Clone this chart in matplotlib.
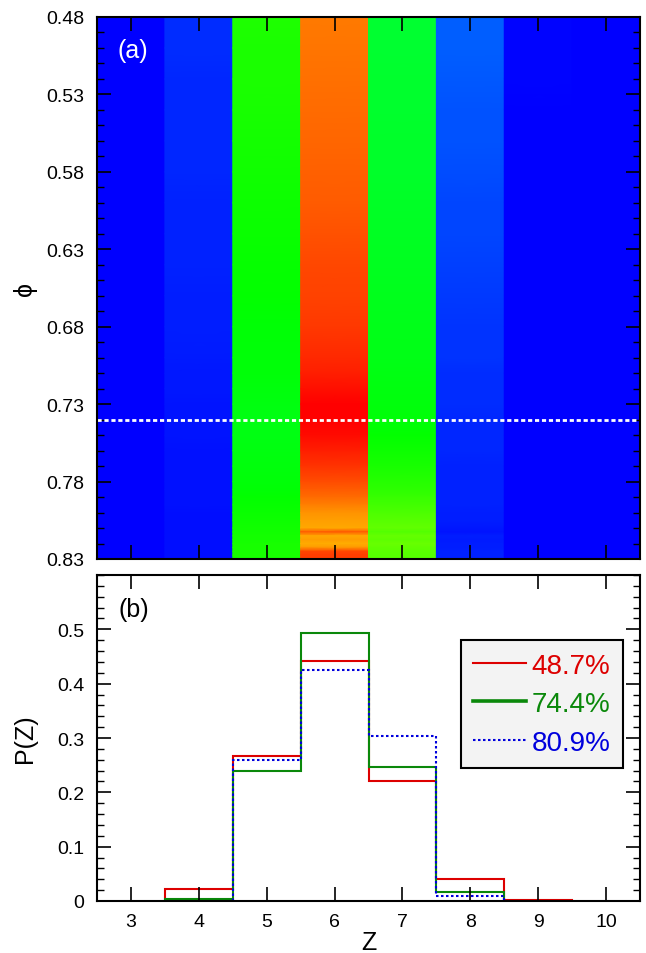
import numpy as np
import matplotlib
matplotlib.use("Agg")
import matplotlib.pyplot as plt
from matplotlib.colors import LinearSegmentedColormap
from matplotlib.lines import Line2D
from matplotlib.ticker import MultipleLocator

plt.rcParams["font.family"] = ["Liberation Sans", "DejaVu Sans"]

# ---- data ----
z_vals = [3, 4, 5, 6, 7, 8, 9, 10]

# panel (a): P(Z) map, rows in phi
phi_rows = [0.48, 0.50, 0.52, 0.54, 0.56, 0.58, 0.60, 0.62, 0.64, 0.66,
            0.68, 0.70, 0.71, 0.72, 0.73, 0.74, 0.75, 0.76, 0.77, 0.78,
            0.785, 0.79, 0.795, 0.80, 0.805, 0.81, 0.8125, 0.815, 0.8175, 0.82,
            0.8225, 0.825, 0.8275, 0.83]
pz3 = [0.0, 0.0, 0.0, 0.0, 0.0, 0.0, 0.0, 0.0, 0.0, 0.0,
       0.0, 0.0, 0.0, 0.0, 0.0, 0.0, 0.0, 0.0, 0.0, 0.0,
       0.0, 0.0, 0.0, 0.0, 0.0, 0.0, 0.0, 0.0, 0.0, 0.0,
       0.0, 0.0, 0.0, 0.0]
pz4 = [0.024, 0.024, 0.023, 0.023, 0.022, 0.022, 0.021, 0.021, 0.020, 0.019,
       0.018, 0.016, 0.015, 0.014, 0.013, 0.012, 0.012, 0.011, 0.011, 0.010,
       0.010, 0.010, 0.010, 0.009, 0.009, 0.008, 0.008, 0.008, 0.008, 0.008,
       0.008, 0.008, 0.008, 0.008]
pz5 = [0.266, 0.265, 0.264, 0.262, 0.260, 0.258, 0.256, 0.254, 0.252, 0.250,
       0.248, 0.246, 0.245, 0.243, 0.241, 0.240, 0.240, 0.241, 0.243, 0.246,
       0.248, 0.250, 0.252, 0.255, 0.257, 0.259, 0.259, 0.260, 0.260, 0.262,
       0.262, 0.262, 0.262, 0.262]
pz6 = [0.442, 0.444, 0.446, 0.448, 0.450, 0.452, 0.455, 0.458, 0.461, 0.464,
       0.468, 0.474, 0.478, 0.484, 0.489, 0.492, 0.486, 0.478, 0.470, 0.460,
       0.455, 0.448, 0.440, 0.432, 0.428, 0.425, 0.455, 0.424, 0.428, 0.422,
       0.430, 0.462, 0.465, 0.465]
pz7 = [0.221, 0.222, 0.223, 0.224, 0.225, 0.226, 0.228, 0.229, 0.231, 0.233,
       0.235, 0.238, 0.240, 0.242, 0.244, 0.246, 0.250, 0.256, 0.262, 0.270,
       0.275, 0.280, 0.286, 0.292, 0.298, 0.304, 0.296, 0.306, 0.302, 0.308,
       0.304, 0.300, 0.298, 0.298]
pz8 = [0.041, 0.040, 0.038, 0.037, 0.036, 0.035, 0.033, 0.032, 0.030, 0.028,
       0.027, 0.026, 0.025, 0.024, 0.024, 0.023, 0.022, 0.022, 0.021, 0.021,
       0.021, 0.020, 0.020, 0.019, 0.018, 0.015, 0.013, 0.018, 0.016, 0.019,
       0.018, 0.020, 0.020, 0.020]
pz9 = [0.002, 0.002, 0.002, 0.001, 0.001, 0.001, 0.001, 0.0, 0.0, 0.0,
       0.0, 0.0, 0.0, 0.0, 0.0, 0.0, 0.0, 0.0, 0.0, 0.0,
       0.0, 0.0, 0.0, 0.0, 0.0, 0.0, 0.0, 0.0, 0.0, 0.0,
       0.0, 0.0, 0.0, 0.0]
pz10 = [0.0, 0.0, 0.0, 0.0, 0.0, 0.0, 0.0, 0.0, 0.0, 0.0,
        0.0, 0.0, 0.0, 0.0, 0.0, 0.0, 0.0, 0.0, 0.0, 0.0,
        0.0, 0.0, 0.0, 0.0, 0.0, 0.0, 0.0, 0.0, 0.0, 0.0,
        0.0, 0.0, 0.0, 0.0]
phi_cut = 0.74

# panel (b): P(Z) at three filling fractions
p_487 = [0.0, 0.023, 0.266, 0.442, 0.221, 0.040, 0.002, 0.0]
p_744 = [0.0, 0.003, 0.239, 0.493, 0.246, 0.017, 0.0, 0.0]
p_809 = [0.0, 0.0, 0.259, 0.425, 0.304, 0.009, 0.0, 0.0]
labels_b = ["48.7%", "74.4%", "80.9%"]

# rainbow-ish map: blue -> cyan -> green -> yellow -> red
vmax = 0.5
cmap = LinearSegmentedColormap.from_list("pz", [
    (0.0, (0, 0, 1)),
    (0.02 / vmax, (0, 0.13, 1)),
    (0.04 / vmax, (0, 0.38, 1)),
    (0.10 / vmax, (0, 1, 1)),
    (0.25 / vmax, (0, 1, 0)),
    (0.392 / vmax, (1, 1, 0)),
    (0.49 / vmax, (1, 0, 0)),
    (1.0, (1, 0, 0)),
])

fig = plt.figure(figsize=(6.46, 9.54), dpi=100)
ax1 = fig.add_axes([97 / 646, 1 - 560 / 954, 543 / 646, 542 / 954])
ax2 = fig.add_axes([97 / 646, 1 - 902 / 954, 543 / 646, 326 / 954])

tick_kw = dict(direction="in", top=True, right=True, labelsize=14)

# ---- (a) ----
# one strip per Z so the shading only blends along phi
for zi, col in zip(z_vals, [pz3, pz4, pz5, pz6, pz7, pz8, pz9, pz10]):
    strip = np.column_stack([col, col])
    ax1.pcolormesh([zi - 0.5, zi + 0.5], phi_rows, strip, shading="gouraud",
                   cmap=cmap, vmin=0, vmax=vmax)
ax1.axhline(phi_cut, color="white", lw=2, ls=(0, (1.5, 1.0)))
ax1.set_xlim(2.5, 10.5)
ax1.set_ylim(0.83, 0.48)
ax1.set_xticks(z_vals)
ax1.set_xticklabels([])
ax1.set_yticks(np.arange(0.48, 0.831, 0.05))
ax1.set_yticklabels(["0.48", "0.53", "0.58", "0.63", "0.68", "0.73", "0.78", "0.83"])
ax1.yaxis.set_minor_locator(MultipleLocator(0.01))
ax1.tick_params(which="major", length=10, width=1.2, pad=9, **tick_kw)
ax1.tick_params(which="minor", length=5, width=1.0, direction="in", right=True)
ax1.set_ylabel("ϕ", fontsize=18, va="center")
ax1.yaxis.set_label_coords(-0.133, 0.5)
ax1.text(0.037, 0.94, "(a)", color="white", fontsize=18,
         transform=ax1.transAxes, va="center", ha="left")

# ---- (b) ----
z = np.array(z_vals)


def draw_steps(ax, p, **kw):
    p = np.asarray(p)
    nz = np.nonzero(p)[0]
    lo, hi = nz[0], nz[-1] + 1
    edges = np.append(z[lo:hi] - 0.5, z[hi - 1] + 0.5)
    ax.stairs(p[lo:hi], edges, baseline=0, **kw)


draw_steps(ax2, p_487, color="#dd0000", lw=1.5)
draw_steps(ax2, p_744, color="#0a880a", lw=1.5)
draw_steps(ax2, p_809, color="#0000dd", lw=1.5, ls=(0, (1.2, 1.2)))

ax2.set_xlim(2.5, 10.5)
ax2.set_ylim(0, 0.6)
ax2.set_xticks(z_vals)
ax2.set_yticks([0, 0.1, 0.2, 0.3, 0.4, 0.5])
ax2.set_yticklabels(["0", "0.1", "0.2", "0.3", "0.4", "0.5"])
ax2.yaxis.set_minor_locator(MultipleLocator(0.02))
ax2.tick_params(which="major", length=10, width=1.2, pad=9, **tick_kw)
ax2.tick_params(which="minor", length=5, width=1.0, direction="in", right=True)
ax2.set_ylabel("P(Z)", fontsize=18, va="center")
ax2.yaxis.set_label_coords(-0.133, 0.5)
ax2.set_xlabel("Z", fontsize=18, va="center")
ax2.xaxis.set_label_coords(0.5, -0.126)
ax2.text(0.039, 0.896, "(b)", color="black", fontsize=18,
         transform=ax2.transAxes, va="center", ha="left")

handles = [Line2D([], [], color="#dd0000", lw=1.5),
           Line2D([], [], color="#0a880a", lw=2.6),
           Line2D([], [], color="#0000dd", lw=1.5, ls=(0, (1.2, 1.2)))]
leg = ax2.legend(handles, labels_b, loc="upper right",
                 bbox_to_anchor=(0.969, 0.80), borderaxespad=0, fontsize=20,
                 handlelength=1.9, handletextpad=0.2, labelspacing=0.45,
                 borderpad=0.45, fancybox=False, framealpha=1)
leg.get_frame().set_edgecolor("black")
leg.get_frame().set_linewidth(1.5)
leg.get_frame().set_facecolor("#f3f3f3")
for t, c in zip(leg.get_texts(), ["#dd0000", "#0a880a", "#0000dd"]):
    t.set_color(c)

for ax in (ax1, ax2):
    for s in ax.spines.values():
        s.set_linewidth(1.5)

fig.savefig("out.png", dpi=100)
